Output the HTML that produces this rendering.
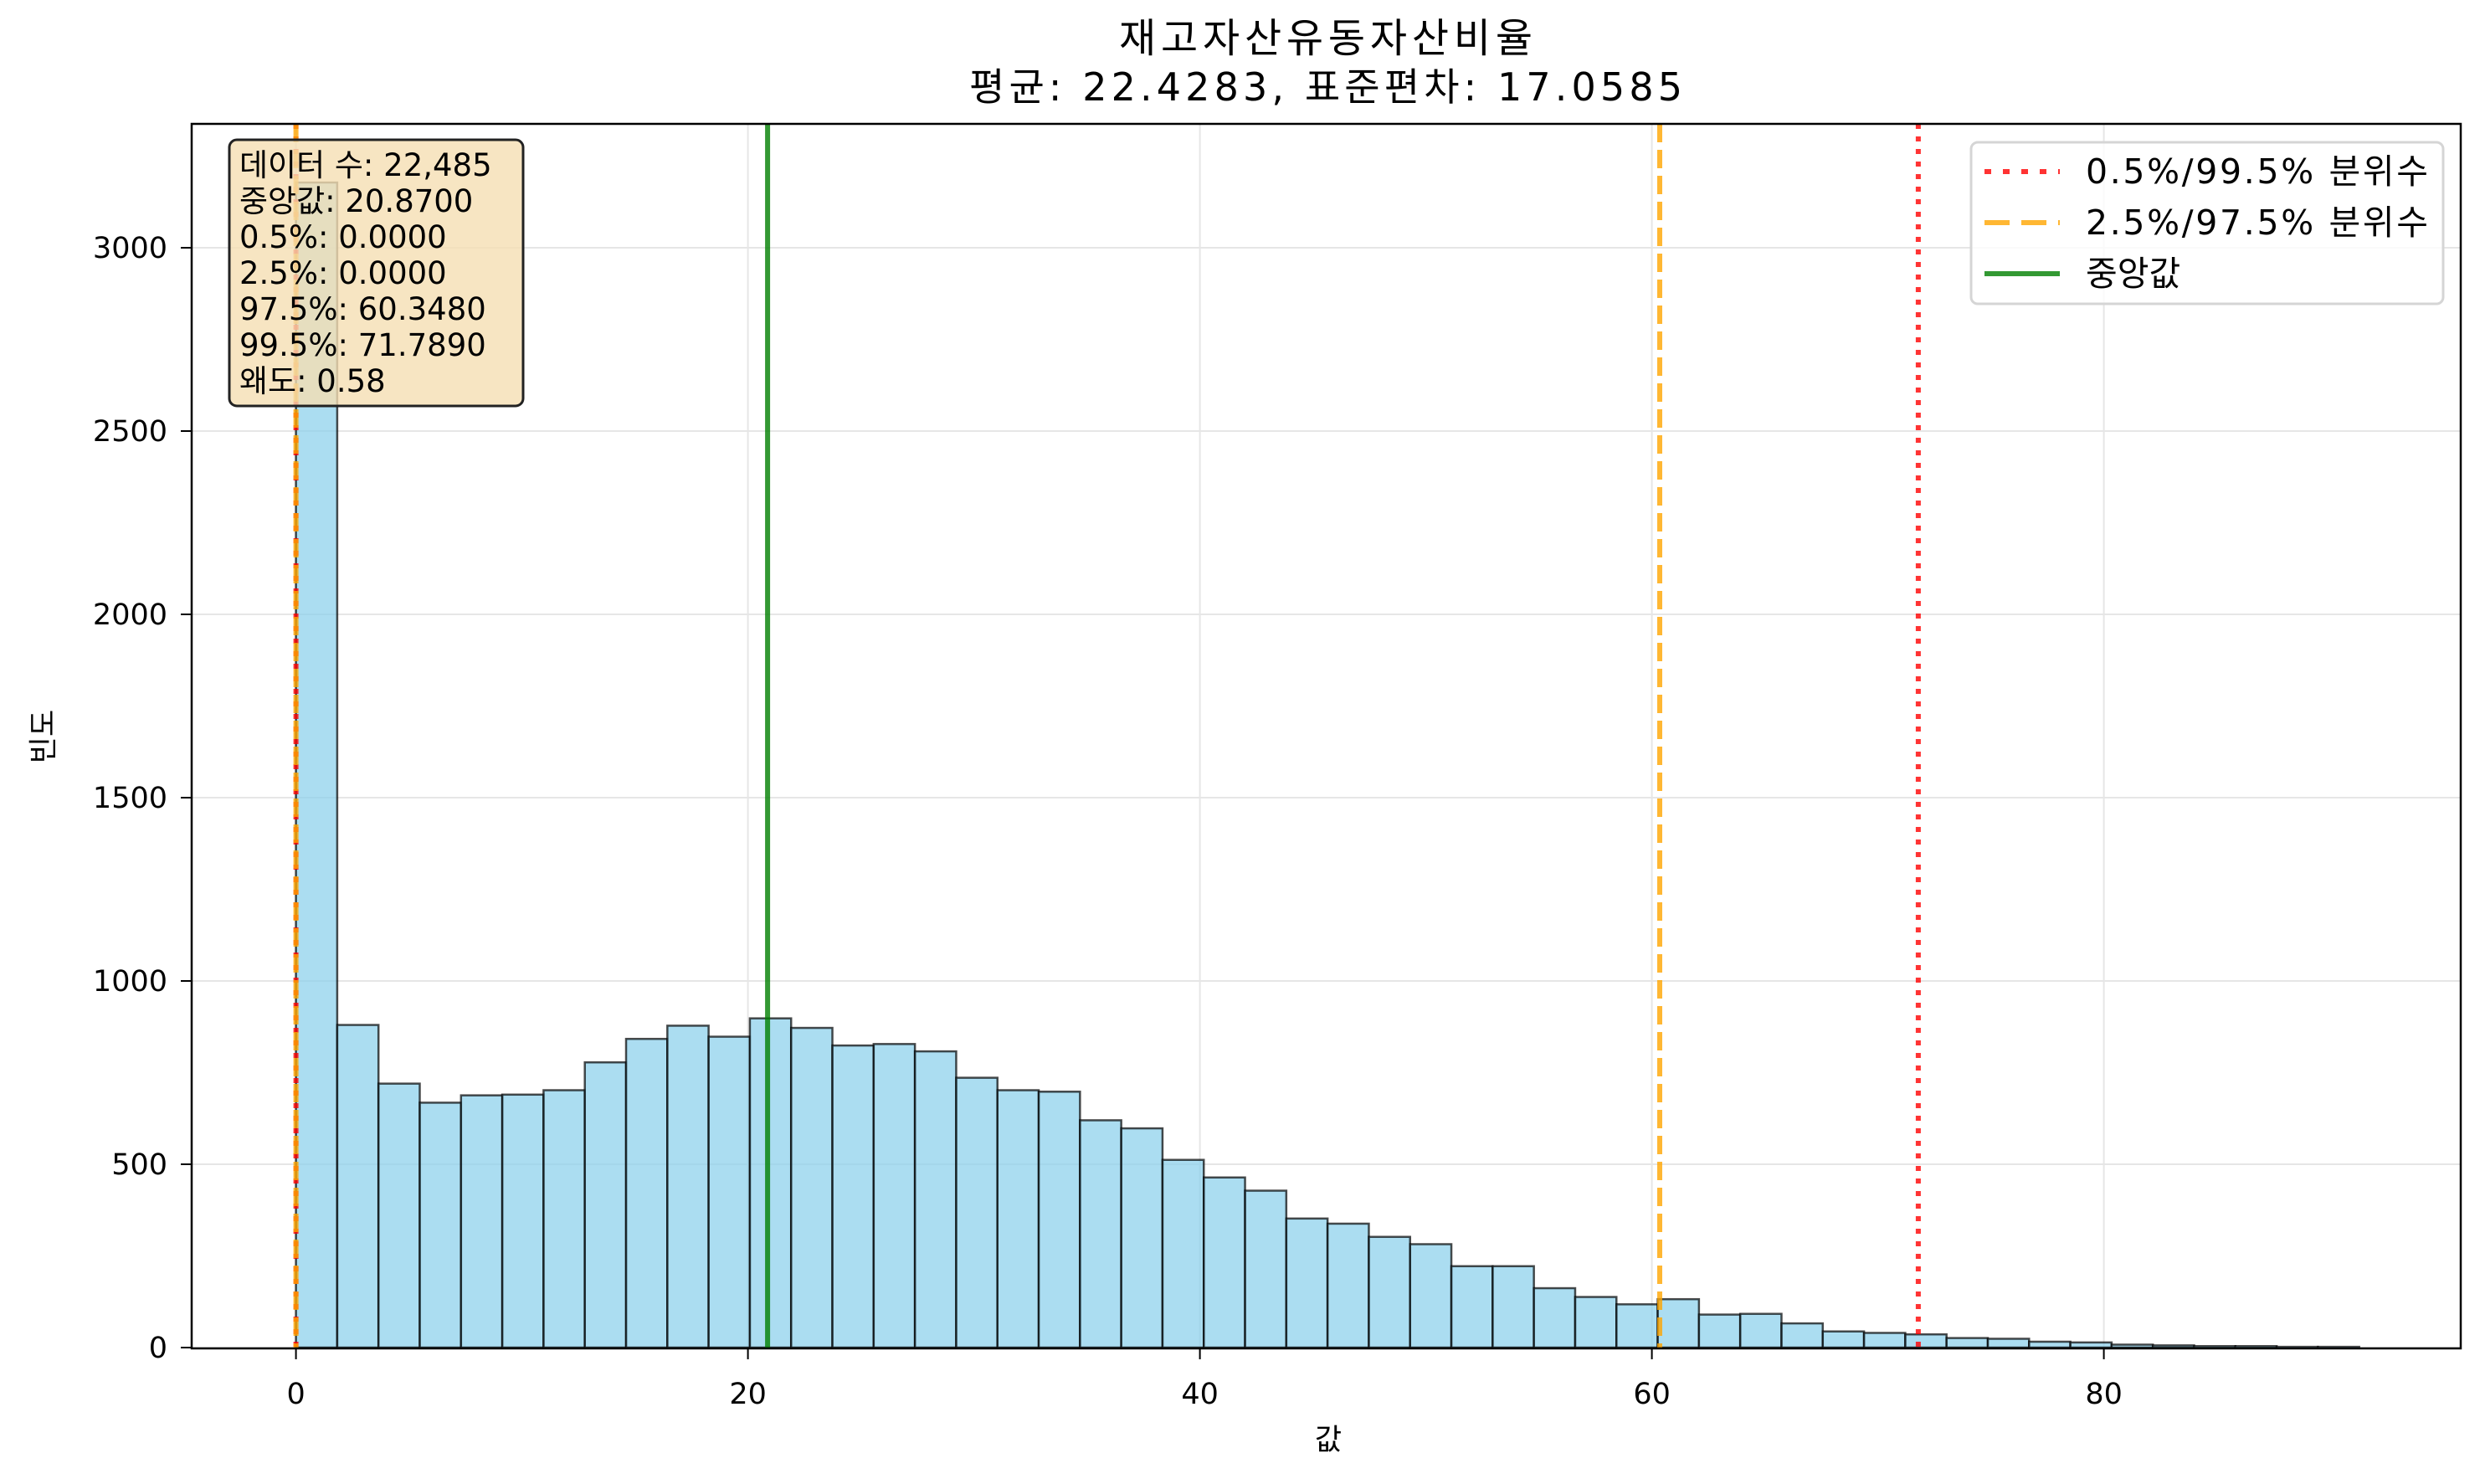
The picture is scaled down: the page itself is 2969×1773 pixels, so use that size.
<!DOCTYPE html>
<html><head><meta charset="utf-8"><style>
body{margin:0;background:#fff}
text{font-family:"DejaVu Sans","Noto Sans CJK KR",sans-serif}
</style></head><body>
<svg id="chart" width="2969" height="1768" xmlns="http://www.w3.org/2000/svg">
<rect width="2969" height="1768" fill="#fff"/>
<g id="grid"></g>
<g id="bars"></g>
<g id="vlines"></g>
<g id="axes"></g>
</svg>
<script>
const binStart = 0;
const binWidth = 1.826;
const counts = [3178,880,720,668,688,690,702,778,842,878,848,898,872,824,828,808,736,702,698,620,598,512,464,428,352,338,302,282,222,222,162,138,118,132,90,92,66,44,40,36,26,24,16,14,8,6,4,4,2,2];
const xTicks = [0,20,40,60,80];
const yTicks = [0,500,1000,1500,2000,2500,3000];
const median = 20.87;
const q025 = 0, q975 = 60.348, q005 = 0, q995 = 71.789;
const statLines = ["데이터 수: 22,485","중앙값: 20.8700","0.5%: 0.0000","2.5%: 0.0000","97.5%: 60.3480","99.5%: 71.7890","왜도: 0.58"];

const L=229,R=2940,T=148,B=1611;
const X=v=>353.6+v*27.0;
const Y=v=>1610-v*0.438;
const NS="http://www.w3.org/2000/svg";
function mk(tag,attrs,parent,txt){const e=document.createElementNS(NS,tag);for(const k in attrs)e.setAttribute(k,attrs[k]);if(txt!==undefined)e.textContent=txt;parent.appendChild(e);return e;}
const grid=document.getElementById('grid'),bars=document.getElementById('bars'),vl=document.getElementById('vlines'),ax=document.getElementById('axes');

xTicks.forEach(t=>{const g=mk('line',{x1:X(t),x2:X(t),y1:T,y2:B,stroke:'#e6e6e6','stroke-width':2},grid);

});
yTicks.forEach(t=>{const g=mk('line',{x1:L,x2:R,y1:Y(t),y2:Y(t),stroke:'#e6e6e6','stroke-width':2},grid);

});

counts.forEach((c,i)=>{const x0=X(binStart+i*binWidth),x1=X(binStart+(i+1)*binWidth);
const r=mk('rect',{x:x0,y:Y(c),width:x1-x0,height:Y(0)-Y(c),fill:'rgba(135,206,235,0.7)',stroke:'rgba(0,0,0,0.7)','stroke-width':2.5},bars);

});

function vline(v,color,dash,name){const l=mk('line',{x1:X(v),x2:X(v),y1:T,y2:B,stroke:color,'stroke-width':6,'stroke-dasharray':dash},vl);

}
vline(q005,'rgba(255,0,0,0.8)','6 9','p0-5-line');
vline(q995,'rgba(255,0,0,0.8)','6 9','p99-5-line');
vline(q025,'rgba(255,165,0,0.8)','22 9','p2-5-line');
vline(q975,'rgba(255,165,0,0.8)','22 9','p97-5-line');
vline(median,'rgba(0,128,0,0.8)','none','median-line');

const frame=mk('rect',{x:L,y:T,width:R-L,height:B-T,fill:'none',stroke:'#000','stroke-width':2.5},ax);


xTicks.forEach(t=>{mk('line',{x1:X(t),x2:X(t),y1:B,y2:B+13,stroke:'#000','stroke-width':2},ax);
const tx=mk('text',{x:X(t),y:1677,'font-size':35,'text-anchor':'middle'},ax,String(t));

});
yTicks.forEach(t=>{mk('line',{x1:L-13,x2:L,y1:Y(t),y2:Y(t),stroke:'#000','stroke-width':2},ax);
const tx=mk('text',{x:200,y:Y(t)+12,'font-size':35,'text-anchor':'end'},ax,String(t));

});

const t1=mk('text',{x:1584,y:62,'font-size':48,'text-anchor':'middle',textLength:494},ax,'재고자산유동자산비율');


const t2=mk('text',{x:1584,y:120,'font-size':46,'text-anchor':'middle',textLength:852},ax,'평균: 22.4283, 표준편차: 17.0585');


const xl=mk('text',{x:1587,y:1732,'font-size':35,'text-anchor':'middle'},ax,'값');


const yl=mk('text',{x:0,y:0,'font-size':35,'text-anchor':'middle',transform:'translate(64,880) rotate(-90)'},ax,'빈도');



const sb=mk('g',{},ax);


mk('rect',{x:274,y:167,width:351,height:318,rx:9,fill:'rgba(245,222,179,0.8)',stroke:'#222','stroke-width':3},sb);
statLines.forEach((s,i)=>{const tx=mk('text',{x:286,y:210+i*43,'font-size':37},sb,s);

});

const lg=mk('g',{},ax);


mk('rect',{x:2355,y:170,width:564,height:193,rx:8,fill:'rgba(255,255,255,0.8)',stroke:'#d5d5d5','stroke-width':3},lg);
const items=[['0.5%/99.5% 분위수','rgba(255,0,0,0.8)','8 14',205,409],['2.5%/97.5% 분위수','rgba(255,165,0,0.8)','30 14',266,409],['중앙값','rgba(0,128,0,0.8)','none',327,0]];
items.forEach(it=>{mk('line',{x1:2371,x2:2461,y1:it[3],y2:it[3],stroke:it[1],'stroke-width':6,'stroke-dasharray':it[2]},lg);
const attrs={x:2492,y:it[3]+14,'font-size':41};
if(it[4])attrs.textLength=it[4];
const tx=mk('text',attrs,lg,it[0]);

});
</script>
</body></html>
